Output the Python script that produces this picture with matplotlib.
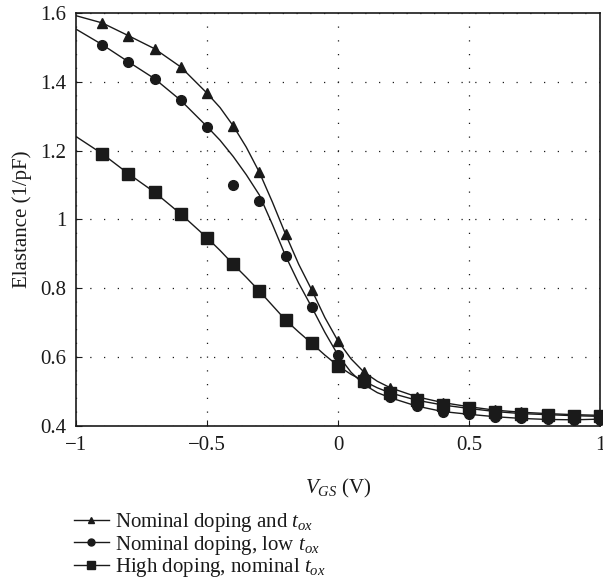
import numpy as np
import matplotlib.pyplot as plt
from matplotlib.lines import Line2D

plt.rcParams['font.family'] = 'Liberation Serif'
plt.rcParams['mathtext.fontset'] = 'custom'
plt.rcParams['mathtext.rm'] = 'Liberation Serif'
plt.rcParams['mathtext.it'] = 'Liberation Serif:italic'

# Marker positions (V_GS, V)
vgs = [-0.9, -0.8, -0.7, -0.6, -0.5, -0.4, -0.3, -0.2, -0.1, 0.0,
       0.1, 0.2, 0.3, 0.4, 0.5, 0.6, 0.7, 0.8, 0.9, 1.0]

# Simulated points (elastance, 1/pF)
tri_pts = [1.571, 1.534, 1.496, 1.443, 1.367, 1.272, 1.137, 0.957, 0.795, 0.647,
           0.556, 0.509, 0.483, 0.467, 0.456, 0.446, 0.440, 0.436, 0.433, 0.431]
circ_pts = [1.508, 1.458, 1.409, 1.346, 1.270, 1.100, 1.054, 0.894, 0.745, 0.606,
            0.524, 0.483, 0.458, 0.441, 0.434, 0.426, 0.422, 0.419, 0.417, 0.417]
sq_pts = [1.191, 1.133, 1.079, 1.016, 0.947, 0.870, 0.792, 0.708, 0.640, 0.575,
          0.530, 0.495, 0.475, 0.461, 0.451, 0.441, 0.436, 0.433, 0.429, 0.428]

# Model curves
vgs_line = [-1.0, -0.9, -0.8, -0.7, -0.6, -0.5, -0.45, -0.4, -0.35, -0.3, -0.25, -0.2,
            -0.15, -0.1, -0.05, 0.0, 0.05, 0.1, 0.15, 0.2, 0.3, 0.4, 0.5, 0.6, 0.7, 0.8, 0.9, 1.0]
tri_line = [1.592, 1.571, 1.534, 1.496, 1.443, 1.367, 1.325, 1.272, 1.210, 1.137, 1.050, 0.957,
            0.870, 0.795, 0.715, 0.647, 0.595, 0.556, 0.530, 0.511, 0.485, 0.468, 0.456, 0.446,
            0.440, 0.436, 0.433, 0.431]
circ_line = [1.553, 1.508, 1.458, 1.409, 1.346, 1.270, 1.230, 1.183, 1.130, 1.071, 0.985, 0.894,
             0.815, 0.745, 0.672, 0.606, 0.556, 0.520, 0.497, 0.482, 0.458, 0.442, 0.434, 0.427,
             0.422, 0.419, 0.418, 0.420]
sq_line = [1.241, 1.191, 1.133, 1.079, 1.016, 0.947, 0.910, 0.870, 0.832, 0.792, 0.750, 0.708,
           0.673, 0.640, 0.606, 0.575, 0.550, 0.530, 0.511, 0.496, 0.475, 0.461, 0.451, 0.442,
           0.436, 0.433, 0.430, 0.428]

labels = [r'Nominal doping and $t_{ox}$',
          r'Nominal doping, low $t_{ox}$',
          r'High doping, nominal $t_{ox}$']

col = '#1a1a1a'

fig = plt.figure(figsize=(6.03, 5.88), dpi=100)
ax = fig.add_axes([0.126, 0.2755, 0.869, 0.7025])

ax.plot(vgs_line, tri_line, color=col, lw=1.0)
ax.plot(vgs_line, circ_line, color=col, lw=1.0)
ax.plot(vgs_line, sq_line, color=col, lw=1.0)
ax.plot(vgs, tri_pts, '^', color=col, ms=7.5, clip_on=False, zorder=3)
ax.plot(vgs, circ_pts, 'o', color=col, ms=7, clip_on=False, zorder=3)
ax.plot(vgs, sq_pts, 's', color=col, ms=8, clip_on=False, zorder=3)

ax.set_xlim(-1, 1)
ax.set_ylim(0.4, 1.6)
ax.set_xticks([-1, -0.5, 0, 0.5, 1])
ax.set_xticklabels(['\u22121', '\u22120.5', '0', '0.5', '1'])
ax.set_yticks([0.4, 0.6, 0.8, 1.0, 1.2, 1.4, 1.6])
ax.set_yticklabels(['0.4', '0.6', '0.8', '1', '1.2', '1.4', '1.6'])
ax.tick_params(direction='in', labelsize=15, length=4, colors=col, pad=7)
ax.grid(True, color=col, linestyle=(0, (1, 10)), linewidth=0.9)
for s in ax.spines.values():
    s.set_linewidth(1.2)
    s.set_color(col)

ax.set_xlabel(r'$V_{GS}$ (V)', fontsize=15, color=col, labelpad=16)
ax.set_ylabel('Elastance (1/pF)', fontsize=15, color=col, labelpad=6)

handles = [Line2D([], [], color=col, lw=1.0, marker=m, ms=ms)
           for m, ms in [('^', 5), ('o', 5), ('s', 6)]]
fig.legend(handles, labels, loc='upper left', bbox_to_anchor=(0.122, 0.131),
           frameon=False, fontsize=15, handlelength=1.7, handletextpad=0.3,
           labelspacing=-0.02, borderaxespad=0, borderpad=0, labelcolor=col)

fig.savefig('out.png', dpi=100)
